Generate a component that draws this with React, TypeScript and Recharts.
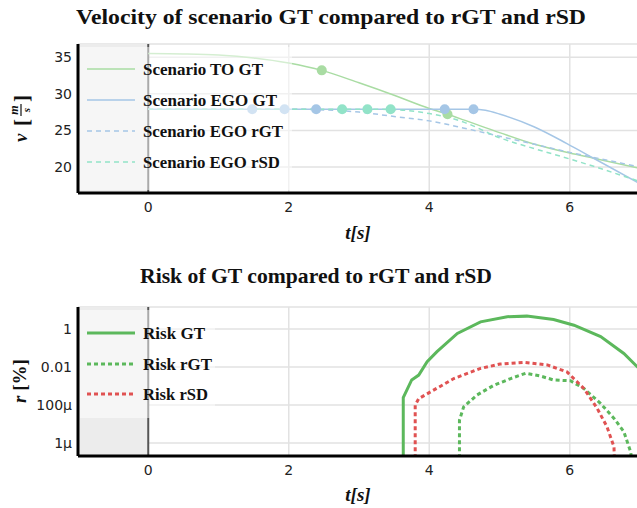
import React from "react";
import {
  ComposedChart,
  Line,
  Scatter,
  XAxis,
  YAxis,
  CartesianGrid,
  ReferenceArea,
  ReferenceLine,
} from "recharts";

// ---- velocity chart data ----
const timeTicks = [0, 2, 4, 6];
const speedTicks = [20, 25, 30, 35];

const toGtTime = [0, 0.5, 1, 1.5, 2, 2.47, 3, 3.5, 4, 4.26, 4.5, 5, 5.5, 6, 6.34, 7];
const toGtSpeed = [35.5, 35.45, 35.3, 34.9, 34.2, 33.2, 31.5, 29.8, 28.0, 27.2, 26.4, 24.7, 23.1, 21.9, 21.2, 19.8];

const egoGtTime = [0, 1, 2, 3, 4, 4.63, 4.8, 5.01, 5.49, 5.96, 6.34, 7];
const egoGtSpeed = [27.9, 27.9, 27.9, 27.9, 27.9, 27.9, 27.75, 27.2, 25.5, 23.2, 21.2, 17.7];

const egoRgtTime = [0, 1, 2, 2.5, 3, 3.5, 4, 4.5, 5, 5.5, 6, 6.5, 7];
const egoRgtSpeed = [27.9, 27.9, 27.9, 27.8, 27.5, 26.9, 26.3, 25.3, 24.2, 23.1, 22.0, 21.0, 20.0];

const egoRsdTime = [0, 1, 2, 3, 3.45, 4, 4.26, 4.5, 5, 5.5, 6, 6.5, 7];
const egoRsdSpeed = [27.9, 27.9, 27.9, 27.9, 27.85, 27.3, 26.8, 26.1, 24.0, 22.5, 21.1, 19.6, 18.0];

const toMarkTime = [2.47, 4.26];
const toMarkSpeed = [33.2, 27.2];
const egoMarkTime = [1.48, 1.94, 2.39, 4.22, 4.63];
const egoMarkSpeed = [27.9, 27.9, 27.9, 27.9, 27.9];
const rsdMarkTime = [2.76, 3.12, 3.45];
const rsdMarkSpeed = [27.9, 27.9, 27.9];

// ---- risk chart data (values below the axis floor mean "no risk") ----
const riskTicks = [1e-6, 1e-4, 1e-2, 1];
const riskTickLabels = ["1\u03bc", "100\u03bc", "0.01", "1"];

const riskGtTime = [3.63, 3.63, 3.75, 3.85, 3.97, 4.11, 4.4, 4.73, 5.11, 5.39, 5.77, 6.06, 6.44, 6.77, 6.96, 7.15];
const riskGtValue = [1e-9, 2.5e-4, 2.1e-3, 3.8e-3, 0.019, 0.065, 0.59, 2.4, 4.5, 4.8, 3.2, 1.6, 0.4, 0.052, 0.0105, 0.0025];

const riskRgtTime = [4.43, 4.43, 4.49, 4.68, 4.92, 5.16, 5.37, 5.58, 5.77, 6.01, 6.2, 6.44, 6.63, 6.77, 6.87, 6.9];
const riskRgtValue = [1e-9, 1.6e-5, 8.1e-5, 3.4e-4, 1.1e-3, 2.5e-3, 4.7e-3, 3.4e-3, 2.1e-3, 1.9e-3, 7.6e-4, 1.2e-4, 2e-5, 4e-6, 3.2e-7, 1e-9];

const riskRsdTime = [3.8, 3.8, 3.85, 4.02, 4.35, 4.73, 5.01, 5.35, 5.68, 5.96, 6.2, 6.39, 6.53, 6.63, 6.65];
const riskRsdValue = [1e-9, 1e-4, 2.2e-4, 5e-4, 2.5e-3, 8.5e-3, 0.0145, 0.0178, 0.013, 5.6e-3, 7.6e-4, 6.8e-5, 7.2e-6, 6.3e-7, 1e-9];

const zip = (ts: number[], vs: number[]) => ts.map((t, i) => ({ t, v: vs[i] }));

const GREEN_L = "#a9dca3";
const BLUE_L = "#a5c6e6";
const CYAN_L = "#92e3c8";
const GREEN = "#5cb85c";
const RED = "#e05252";

const tickStyle = { fill: "#222", fontSize: 14, fontFamily: "DejaVu Sans" };
const frame = { stroke: "#000", strokeWidth: 3 };
const serif = "'Liberation Serif', serif";

const dot = (color: string) => (p: any) => <circle cx={p.cx} cy={p.cy} r={5} fill={color} />;

function VelocityChart() {
  return (
    <ComposedChart width={640} height={255} margin={{ top: 44, right: 0, bottom: 0, left: 0 }}>
      <ReferenceArea x1={-1} x2={0} fill="#ececec" fillOpacity={1} stroke="none" />
      <CartesianGrid stroke="#e2e2e2" strokeWidth={1.5} />
      <ReferenceLine x={0} stroke="#555" strokeWidth={2} />
      <XAxis
        dataKey="t"
        type="number"
        domain={[-1, 7]}
        ticks={timeTicks}
        allowDataOverflow
        height={62}
        tickLine={false}
        tickSize={0}
        tickMargin={9}
        axisLine={frame}
        tick={tickStyle}
      />
      <XAxis xAxisId="top" orientation="top" type="number" domain={[-1, 7]} height={0} tick={false} tickLine={false} axisLine={frame} />
      <YAxis
        type="number"
        domain={[16.45, 36.8]}
        ticks={speedTicks}
        allowDataOverflow
        width={78}
        tickLine={false}
        tickSize={0}
        tickMargin={6}
        axisLine={frame}
        tick={tickStyle}
      />
      <Line data={zip(toGtTime, toGtSpeed)} dataKey="v" type="monotone" stroke={GREEN_L} strokeWidth={1.5} dot={false} isAnimationActive={false} />
      <Line data={zip(egoGtTime, egoGtSpeed)} dataKey="v" type="monotone" stroke={BLUE_L} strokeWidth={1.5} dot={false} isAnimationActive={false} />
      <Line data={zip(egoRgtTime, egoRgtSpeed)} dataKey="v" type="monotone" stroke={BLUE_L} strokeWidth={1.5} strokeDasharray="5 4" dot={false} isAnimationActive={false} />
      <Line data={zip(egoRsdTime, egoRsdSpeed)} dataKey="v" type="monotone" stroke={CYAN_L} strokeWidth={1.5} strokeDasharray="5 4" dot={false} isAnimationActive={false} />
      <Scatter data={zip(toMarkTime, toMarkSpeed)} dataKey="v" shape={dot(GREEN_L)} isAnimationActive={false} />
      <Scatter data={zip(egoMarkTime, egoMarkSpeed)} dataKey="v" shape={dot(BLUE_L)} isAnimationActive={false} />
      <Scatter data={zip(rsdMarkTime, rsdMarkSpeed)} dataKey="v" shape={dot(CYAN_L)} isAnimationActive={false} />
    </ComposedChart>
  );
}

function RiskChart() {
  return (
    <ComposedChart width={640} height={253} margin={{ top: 52, right: 0, bottom: 0, left: 0 }}>
      <ReferenceArea x1={-1} x2={0} fill="#ececec" fillOpacity={1} stroke="none" />
      <CartesianGrid stroke="#e2e2e2" strokeWidth={1.5} />
      <ReferenceLine x={0} stroke="#555" strokeWidth={2} />
      <XAxis
        dataKey="t"
        type="number"
        domain={[-1, 7]}
        ticks={timeTicks}
        allowDataOverflow
        height={52}
        tickLine={false}
        tickSize={0}
        tickMargin={9}
        axisLine={frame}
        tick={tickStyle}
      />
      <XAxis xAxisId="top" orientation="top" type="number" domain={[-1, 7]} height={0} tick={false} tickLine={false} axisLine={frame} />
      <YAxis
        type="number"
        scale="log"
        domain={[2.1e-7, 14.5]}
        ticks={riskTicks}
        tickFormatter={(v: number) => riskTickLabels[riskTicks.findIndex((r) => Math.abs(Math.log10(r) - Math.log10(v)) < 0.01)] ?? ""}
        allowDataOverflow
        width={78}
        tickLine={false}
        tickSize={0}
        tickMargin={6}
        axisLine={frame}
        tick={tickStyle}
      />
      <Line data={zip(riskGtTime, riskGtValue)} dataKey="v" type="linear" stroke={GREEN} strokeWidth={3} dot={false} isAnimationActive={false} />
      <Line data={zip(riskRgtTime, riskRgtValue)} dataKey="v" type="linear" stroke={GREEN} strokeWidth={3} strokeDasharray="4 3" dot={false} isAnimationActive={false} />
      <Line data={zip(riskRsdTime, riskRsdValue)} dataKey="v" type="linear" stroke={RED} strokeWidth={3} strokeDasharray="4 3" dot={false} isAnimationActive={false} />
    </ComposedChart>
  );
}

const velLegend = [
  { label: "Scenario TO GT", color: GREEN_L, dash: undefined, y: 69, w: 120 },
  { label: "Scenario EGO GT", color: BLUE_L, dash: undefined, y: 100, w: 134 },
  { label: "Scenario EGO rGT", color: BLUE_L, dash: "5 4", y: 131, w: 140 },
  { label: "Scenario EGO rSD", color: CYAN_L, dash: "5 4", y: 162, w: 137 },
];
const riskLegend = [
  { label: "Risk GT", color: GREEN, dash: undefined, y: 333, w: 62 },
  { label: "Risk rGT", color: GREEN, dash: "4 3", y: 364, w: 69 },
  { label: "Risk rSD", color: RED, dash: "4 3", y: 394, w: 65 },
];

function Overlay() {
  const legendRow = (r: any, sw: number) => (
    <g key={r.label}>
      <line x1={87} x2={135} y1={r.y} y2={r.y} stroke={r.color} strokeWidth={sw} strokeDasharray={r.dash} />
      <text x={143} y={r.y + 6} fontFamily={serif} fontWeight="bold" fontSize={17} fill="#111" textLength={r.w} lengthAdjust="spacingAndGlyphs">
        {r.label}
      </text>
    </g>
  );
  return (
    <svg width={637} height={508} style={{ position: "absolute", left: 0, top: 0, pointerEvents: "none" }}>
      <text x={331} y={24} textAnchor="middle" fontFamily={serif} fontWeight="bold" fontSize={21} fill="#111" textLength={510} lengthAdjust="spacingAndGlyphs">
        Velocity of scenario GT compared to rGT and rSD
      </text>
      <text x={316} y={283} textAnchor="middle" fontFamily={serif} fontWeight="bold" fontSize={21} fill="#111" textLength={352} lengthAdjust="spacingAndGlyphs">
        Risk of GT compared to rGT and rSD
      </text>

      <rect x={80} y={47} width={212} height={143} fill="#fff" fillOpacity={0.5} />
      {velLegend.map((r) => legendRow(r, 1.5))}
      <rect x={80} y={310} width={135} height={108} fill="#fff" fillOpacity={0.5} />
      {riskLegend.map((r) => legendRow(r, 3))}

      <text x={358} y={239} textAnchor="middle" fontFamily={serif} fontWeight="bold" fontStyle="italic" fontSize={19} fill="#111">
        t[s]
      </text>
      <text x={358} y={501} textAnchor="middle" fontFamily={serif} fontWeight="bold" fontStyle="italic" fontSize={19} fill="#111">
        t[s]
      </text>

      <g transform="translate(28,118) rotate(-90)" fontFamily={serif} fontWeight="bold" fill="#111">
        <text x={-24} y={-1} fontSize={19} fontStyle="italic">v</text>
        <text x={-8} y={1} fontSize={21}>[</text>
        <text x={8} y={-10} fontSize={12} fontStyle="italic" textAnchor="middle">m</text>
        <line x1={2} x2={14} y1={-7} y2={-7} stroke="#111" strokeWidth={1.2} />
        <text x={8} y={2} fontSize={11} fontStyle="italic" textAnchor="middle">s</text>
        <text x={16} y={1} fontSize={21}>]</text>
      </g>
      <g transform="translate(26,381) rotate(-90)" fontFamily={serif} fontWeight="bold" fill="#111">
        <text x={0} y={0} fontSize={19} textAnchor="middle">
          <tspan fontStyle="italic">r</tspan> [%]
        </text>
      </g>
    </svg>
  );
}

export default function App() {
  return (
    <div style={{ position: "absolute", left: 0, top: 0, width: 637, height: 508, overflow: "hidden", background: "#fff" }}>
      <div style={{ position: "absolute", left: 0, top: 0 }}>
        <VelocityChart />
      </div>
      <div style={{ position: "absolute", left: 0, top: 255 }}>
        <RiskChart />
      </div>
      <Overlay />
    </div>
  );
}
